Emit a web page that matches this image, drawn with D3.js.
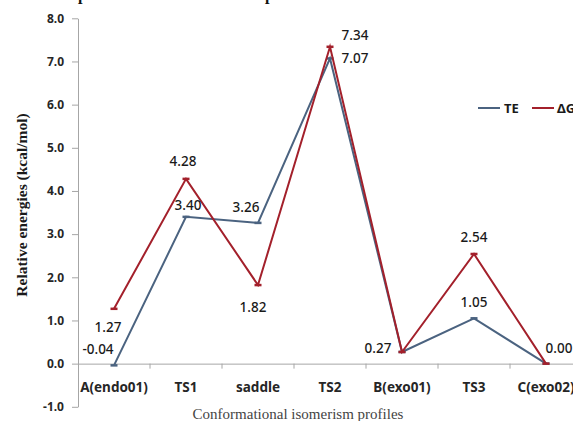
<!DOCTYPE html>
<html><head><meta charset="utf-8">
<script src="https://cdn.jsdelivr.net/npm/d3@7"></script>
<style>body{margin:0;background:#fff;overflow:hidden}</style>
</head><body>
<svg id="c" width="573" height="421"></svg>
<script>
const categories = ["A(endo01)","TS1","saddle","TS2","B(exo01)","TS3","C(exo02)"];
const teValues = [-0.04, 3.40, 3.26, 7.07, 0.27, 1.05, 0.00];
const dgValues = [1.27, 4.28, 1.82, 7.34, 0.27, 2.54, 0.00];
const teLabels = ["-0.04","3.40","3.26","7.07","0.27","1.05","0.00"];
const dgLabels = ["1.27","4.28","1.82","7.34","","2.54",""];
const yTicks = [-1,0,1,2,3,4,5,6,7,8];
const seriesNames = ["TE","ΔG"];

// label offsets (layout, not data)
const teOff = [[-16,-16],[2,-12],[-12,-16],[25,0],[-24,-4],[0,-16],[13,-16]];
const dgOff = [[-6,18],[-3,-18],[-5,22],[25,-12],[0,0],[0,-17],[0,0]];

const svg = d3.select("#c");
const colors = {"TE":"#4b6380","ΔG":"#a3202b"};

const x = d3.scaleBand().domain(categories).range([78, 582]).paddingInner(0).paddingOuter(0);
const y = d3.scaleLinear().domain([-1, 8]).range([406.8, 18.3]);

// cropped text fragments at the very top (descenders of a line above)
svg.append("g").selectAll("text").data([78, 265]).join("text")
  .attr("x",d=>d).attr("y",-0.5).attr("font-family","'Liberation Serif', serif")
  .attr("font-size","16px").attr("font-weight","bold").attr("fill","#111").text("p");

// y axis
const fmt = d => d.toFixed(1);
const yAxis = d3.axisLeft(y).tickValues(yTicks).tickFormat(fmt).tickSize(6).tickSizeOuter(0);
const gy = svg.append("g").attr("transform","translate(78,0)").call(yAxis);
gy.select(".domain").attr("stroke","#a6a6a6");
gy.selectAll(".tick line").attr("stroke","#a6a6a6");
gy.selectAll(".tick text").attr("font-family","'Noto Sans', sans-serif").attr("font-weight","bold")
  .attr("font-size","12px").attr("fill","#262626").attr("x",-14);

// x axis at y=0
const xAxis = d3.axisBottom(x).tickSize(0).tickSizeOuter(0);
const gx = svg.append("g").attr("transform",`translate(0,${y(0)})`).call(xAxis);
gx.select(".domain").attr("stroke","#a6a6a6");
gx.selectAll(".tick text").attr("font-family","'Noto Sans', sans-serif").attr("font-weight","bold")
  .attr("font-size","13.5px").attr("fill","#262626").attr("dy","0").attr("y",28);
// category boundary ticks
svg.append("g").selectAll("line").data(categories.slice(1)).join("line")
  .attr("x1",d=>x(d)).attr("x2",d=>x(d)).attr("y1",y(0)).attr("y2",y(0)+5)
  .attr("stroke","#a6a6a6");

// lines
const line = d3.line().x((d,i)=>x(categories[i])+x.bandwidth()/2).y(d=>y(d));
function drawSeries(vals, name){
  svg.append("path").datum(vals).attr("d",line).attr("fill","none")
    .attr("stroke",colors[name]).attr("stroke-width",2).attr("stroke-linejoin","miter");
  svg.append("g").selectAll("rect").data(vals).join("rect")
    .attr("x",(d,i)=>x(categories[i])+x.bandwidth()/2-3.5).attr("y",d=>y(d)-1.25)
    .attr("width",7).attr("height",2.5).attr("fill",colors[name]);
}
drawSeries(teValues,"TE");
drawSeries(dgValues,"ΔG");

function drawLabels(vals, labels, off){
  svg.append("g").selectAll("text").data(vals).join("text")
    .attr("x",(d,i)=>x(categories[i])+x.bandwidth()/2+off[i][0])
    .attr("y",(d,i)=>y(d)+off[i][1])
    .attr("text-anchor","middle").attr("dominant-baseline","central")
    .attr("font-family","'Noto Sans', sans-serif").attr("font-size","13.5px").attr("font-weight","500")
    .attr("fill","#1a1a1a").text((d,i)=>labels[i]);
}
drawLabels(teValues, teLabels, teOff);
drawLabels(dgValues, dgLabels, dgOff);

// legend
const lg = svg.append("g");
[[478,504],[532,557]].forEach((p,i)=>{
  lg.append("line").attr("x1",p[0]).attr("x2",p[0]+22).attr("y1",108).attr("y2",108)
    .attr("stroke",colors[seriesNames[i]]).attr("stroke-width",2);
  lg.append("text").attr("x",p[1]).attr("y",108).attr("dominant-baseline","central")
    .attr("font-family","'Noto Sans', sans-serif").attr("font-weight","bold").attr("font-size","13px")
    .attr("fill","#1a1a1a").text(seriesNames[i]);
});

// axis titles
svg.append("text").attr("transform","translate(21,205) rotate(-90)").attr("text-anchor","middle")
  .attr("dominant-baseline","central")
  .attr("font-family","'Liberation Serif', serif").attr("font-weight","bold").attr("font-size","15.5px")
  .attr("fill","#1a1a1a").text("Relative energies (kcal/mol)");
svg.append("text").attr("x",298).attr("y",414).attr("text-anchor","middle").attr("dominant-baseline","central")
  .attr("font-family","'Liberation Serif', serif").attr("font-size","15px")
  .attr("fill","#444").text("Conformational isomerism profiles");
</script>
</body></html>
